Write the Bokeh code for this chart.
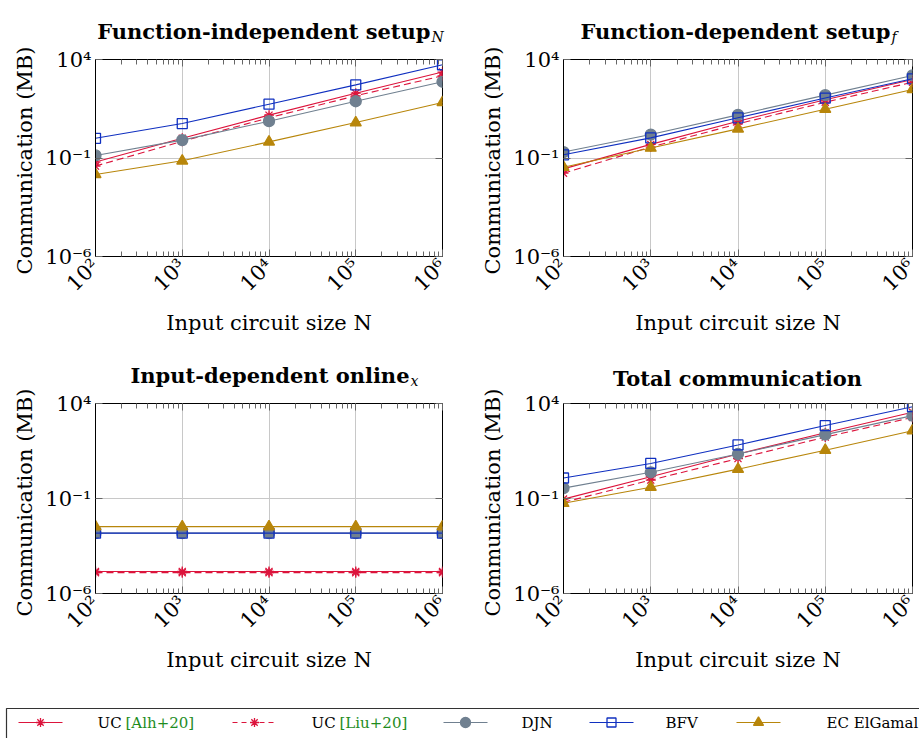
import math
from bokeh.plotting import figure
from bokeh.models import Range1d, FixedTicker, LogAxis, CustomJSTickFormatter
from bokeh.layouts import column, row
from bokeh.embed import file_html
from bokeh.resources import INLINE
from bokeh.core.properties import value

# ---------------- data ----------------
N = [1e2, 1e3, 1e4, 1e5, 1e6]
x_tick_labels = ["10²", "10³", "10⁴", "10⁵", "10⁶"]
y_ticks = [1e-6, 1e-1, 1e4]
y_tick_labels = ["10⁻⁶", "10⁻¹", "10⁴"]

series = ["alh", "liu", "djn", "bfv", "ec"]
legend_main = ["UC", "UC", "DJN", "BFV", "EC ElGamal"]
legend_cite = ["[Alh+20]", "[Liu+20]", "", "", ""]

titles = ["Function-independent setup", "Function-dependent setup",
          "Input-dependent online", "Total communication"]
title_subs = ["N", "f", "x", ""]
x_label = "Input circuit size N"
y_label = "Communication (MB)"

# Function-independent setup_N
setupN_alh = [0.062, 1.0, 15, 195, 2300]
setupN_liu = [0.039, 0.7, 11, 144, 1480]
setupN_djn = [0.135, 0.81, 7.4, 76, 740]
setupN_bfv = [1.0, 5.6, 54, 515, 5400]
setupN_ec = [0.0145, 0.072, 0.66, 6.3, 66]

# Function-dependent setup_f
setupf_alh = [0.028, 0.49, 7.4, 90, 960]
setupf_liu = [0.017, 0.36, 5.4, 68, 700]
setupf_djn = [0.2, 1.55, 15.5, 155, 1550]
setupf_bfv = [0.145, 1.05, 11, 110, 1050]
setupf_ec = [0.034, 0.32, 3.0, 30, 300]

# Input-dependent online_x
online_alh = [1.45e-5, 1.45e-5, 1.45e-5, 1.45e-5, 1.45e-5]
online_liu = [1.25e-5, 1.25e-5, 1.25e-5, 1.25e-5, 1.25e-5]
online_djn = [0.0015, 0.0015, 0.0015, 0.0015, 0.0015]
online_bfv = [0.0015, 0.0015, 0.0015, 0.0015, 0.0015]
online_ec = [0.0033, 0.0033, 0.0033, 0.0033, 0.0033]

# Total communication
total_alh = [0.093, 1.4, 22, 290, 3500]
total_liu = [0.063, 0.93, 12.6, 170, 1850]
total_djn = [0.35, 2.4, 22, 230, 2300]
total_bfv = [1.2, 7, 66, 690, 6800]
total_ec = [0.056, 0.39, 3.5, 35, 370]

# ---------------- styles ----------------
RED = "#DC143C"
GREY = "#708090"
BLUE = "#1030C0"
GOLD = "#B8860B"
CITE = "#1E8C1E"
STYLE = {
    "alh": dict(color=RED, dash="solid", marker="asterisk", size=10, fill=RED, falpha=1.0),
    "liu": dict(color=RED, dash="7 4", marker="asterisk", size=10, fill=RED, falpha=1.0),
    "djn": dict(color=GREY, dash="solid", marker="circle", size=11, fill=GREY, falpha=1.0),
    "bfv": dict(color=BLUE, dash="solid", marker="square", size=10, fill="white", falpha=0.0),
    "ec": dict(color=GOLD, dash="solid", marker="triangle", size=11, fill=GOLD, falpha=1.0),
}
SERIF = "DejaVu Serif"
TICK_C = "#666666"
FW, FH = 351, 197

x_minor = [m * n for n in N[:-1] for m in range(2, 10)]


def strip(width, height, flip=True):
    yr = Range1d(height, 0) if flip else Range1d(0, height)
    f = figure(width=width, height=height, x_range=Range1d(0, width), y_range=yr,
               title=None, output_backend="svg", toolbar_location=None, frame_align=False,
               x_axis_location=None, y_axis_location=None,
               min_border=0, min_border_left=0, min_border_right=0,
               min_border_top=0, min_border_bottom=0)
    f.grid.visible = False
    f.outline_line_color = None
    f.background_fill_color = "white"
    f.border_fill_color = "white"
    return f


def title_strip(width, height, main, sub, tx, ty, align):
    f = strip(width, height)
    f.text([tx], [ty], text=[main], text_font=value(SERIF), text_font_style="bold",
           text_font_size="21px", text_align=align, text_baseline="alphabetic",
           text_color="black")
    if sub:
        f.text([tx + 1], [ty + 5], text=[sub], text_font=value(SERIF), text_font_style="italic",
               text_font_size="14px", text_align="left", text_baseline="alphabetic",
               text_color="black")
    return f


def ylabel_strip(width, height, cx, cy):
    f = strip(width, height, flip=False)
    f.text([cx], [cy], text=[y_label], angle=math.pi / 2, text_font=value(SERIF),
           text_font_size="21px", text_align="center", text_baseline="middle",
           text_color="black")
    return f


def make_panel(data, width, height, left, top):
    right = width - left - FW
    bottom = height - top - FH
    p = figure(width=width, height=height, x_axis_type="log", y_axis_type="log",
               x_range=Range1d(N[0], N[-1]), y_range=Range1d(y_ticks[0], y_ticks[-1]),
               title=None, output_backend="svg", toolbar_location=None, frame_align=False,
               min_border_left=left, min_border_right=right,
               min_border_top=top, min_border_bottom=bottom)
    p.outline_line_color = "black"
    p.outline_line_alpha = 1.0
    p.outline_line_width = 1
    p.background_fill_color = "white"
    p.border_fill_color = "white"

    xt = FixedTicker(ticks=N, minor_ticks=x_minor)
    yt = FixedTicker(ticks=y_ticks, minor_ticks=[])

    xa = p.xaxis[0]
    ya = p.yaxis[0]
    xa.ticker = xt
    ya.ticker = yt
    xa.major_label_overrides = dict(zip(N, x_tick_labels))
    ya.major_label_overrides = dict(zip(y_ticks, y_tick_labels))
    xa.major_label_orientation = math.pi / 4
    for ax in (xa, ya):
        ax.axis_line_color = "black"
        ax.major_tick_in = 7
        ax.major_tick_out = 0
        ax.minor_tick_in = 5
        ax.minor_tick_out = 0
        ax.major_tick_line_color = TICK_C
        ax.minor_tick_line_color = TICK_C
        ax.major_label_text_font = SERIF
        ax.major_label_text_font_size = "21px"
        ax.major_label_text_color = "black"
        ax.axis_label_text_font = SERIF
        ax.axis_label_text_font_size = "21px"
        ax.axis_label_text_font_style = "normal"
        ax.axis_label_text_color = "black"
    xa.axis_label = x_label
    xa.major_label_standoff = 6
    xa.axis_label_standoff = 4
    ya.major_label_standoff = 4

    blank = CustomJSTickFormatter(code="return ''")
    top_ax = LogAxis(ticker=xt, formatter=blank, axis_line_color=None,
                     major_tick_in=7, major_tick_out=0, minor_tick_in=5, minor_tick_out=0,
                     major_tick_line_color=TICK_C, minor_tick_line_color=TICK_C,
                     major_label_standoff=0, major_label_text_font_size="1px")
    right_ax = LogAxis(ticker=yt, formatter=blank, axis_line_color=None,
                       major_tick_in=7, major_tick_out=0, minor_tick_in=0, minor_tick_out=0,
                       major_tick_line_color=TICK_C,
                       major_label_standoff=0, major_label_text_font_size="1px")
    p.add_layout(top_ax, "above")
    p.add_layout(right_ax, "right")

    p.xgrid.ticker = xt
    p.ygrid.ticker = yt
    p.xgrid.grid_line_color = "#c8c8c8"
    p.ygrid.grid_line_color = "#c8c8c8"
    p.grid.grid_line_width = 1

    for key in series:
        s = STYLE[key]
        p.line(N, data[key], line_color=s["color"], line_width=1.1, line_dash=s["dash"])
        p.scatter(N, data[key], marker=s["marker"], size=s["size"],
                  line_color=s["color"], line_width=1.3,
                  fill_color=s["fill"], fill_alpha=s["falpha"])
    return p


d1 = dict(alh=setupN_alh, liu=setupN_liu, djn=setupN_djn, bfv=setupN_bfv, ec=setupN_ec)
d2 = dict(alh=setupf_alh, liu=setupf_liu, djn=setupf_djn, bfv=setupf_bfv, ec=setupf_ec)
d3 = dict(alh=online_alh, liu=online_liu, djn=online_djn, bfv=online_bfv, ec=online_ec)
d4 = dict(alh=total_alh, liu=total_liu, djn=total_djn, bfv=total_bfv, ec=total_ec)

# column widths: [ylabel strip | plot] [ylabel strip | plot]
YL_L, YL_R = 42, 50
PL_L, PL_R = 418, 409
HT, HB = 345, 330        # panel heights (top row / bottom row)
TT, TB = 46, 46          # title strip heights

t1 = title_strip(PL_L, TT, titles[0], title_subs[0], 388, 31, "right")
t2 = title_strip(PL_R, TT, titles[1], title_subs[1], 380, 31, "right")
t3 = title_strip(PL_L, TB, titles[2], title_subs[2], 367, 30, "right")
t4 = title_strip(PL_R, TB, titles[3], title_subs[3], 227, 33, "center")

p1 = make_panel(d1, PL_L, HT - TT, 49, 59 - TT)
p2 = make_panel(d2, PL_R, HT - TT, 51, 59 - TT)
p3 = make_panel(d3, PL_L, HB - TB, 49, 58 - TB)
p4 = make_panel(d4, PL_R, HB - TB, 51, 58 - TB)

y1 = ylabel_strip(YL_L, HT, 24, 185)
y2 = ylabel_strip(YL_R, HT, 32, 185)
y3 = ylabel_strip(YL_L, HB, 24, 173)
y4 = ylabel_strip(YL_R, HB, 32, 173)

# ---------------- legend strip ----------------
LW, LH = YL_L + PL_L + YL_R + PL_R, 63
leg = strip(LW, LH)

box_top = 33
row_y = 47
leg.line([6, 6, LW], [LH, box_top, box_top], line_color="#333333", line_width=1.2)

line_x0 = [18, 232, 443, 589, 736]
text_x = [97, 311, 521, 665, 826]
cite_x = [125, 339, 0, 0, 0]
for i, key in enumerate(series):
    s = STYLE[key]
    x0 = line_x0[i]
    leg.line([x0, x0 + 44], [row_y, row_y], line_color=s["color"], line_width=1.1,
             line_dash="5 4" if s["dash"] != "solid" else "solid")
    leg.scatter([x0 + 22], [row_y], marker=s["marker"], size=s["size"] - 1,
                line_color=s["color"], line_width=1.3,
                fill_color=s["fill"], fill_alpha=s["falpha"])
    leg.text([text_x[i]], [row_y], text=[legend_main[i]], text_font=value(SERIF),
             text_font_size="15px", text_baseline="middle", text_align="left",
             text_color="black")
    if legend_cite[i]:
        leg.text([cite_x[i]], [row_y], text=[legend_cite[i]], text_font=value(SERIF),
                 text_font_size="15px", text_baseline="middle", text_align="left",
                 text_color=CITE)

layout = column(
    row(y1, column(t1, p1), y2, column(t2, p2)),
    row(y3, column(t3, p3), y4, column(t4, p4)),
    leg,
)
open("out.html", "w").write(file_html(layout, INLINE))
